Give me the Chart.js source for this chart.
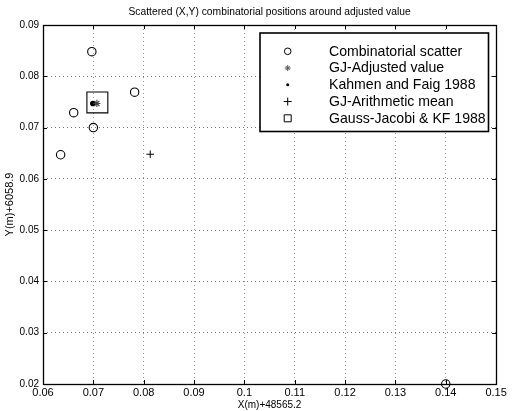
<!DOCTYPE html>
<html><head><meta charset="utf-8">
<script src="https://cdn.jsdelivr.net/npm/chart.js@4"></script>
<style>html,body{margin:0;padding:0;background:#fff;}canvas{display:block;}</style>
</head><body>
<canvas id="c" width="512" height="411"></canvas>
<script>
const chartTitle = "Scattered (X,Y) combinatorial positions around adjusted value";
const xAxisLabel = "X(m)+48565.2";
const yAxisLabel = "Y(m)+6058.9";
const xTicks = [0.06, 0.07, 0.08, 0.09, 0.10, 0.11, 0.12, 0.13, 0.14, 0.15];
const yTicks = [0.02, 0.03, 0.04, 0.05, 0.06, 0.07, 0.08, 0.09];
const seriesNames = ["Combinatorial scatter", "GJ-Adjusted value", "Kahmen and Faig 1988", "GJ-Arithmetic mean", "Gauss-Jacobi & KF 1988"];
const scatterX = [0.0697, 0.0782, 0.0661, 0.0700, 0.0635, 0.1400];
const scatterY = [0.0848, 0.0769, 0.0729, 0.0700, 0.0647, 0.0200];
const adjustedX = [0.0707];
const adjustedY = [0.0747];
const kahmenX = [0.0699];
const kahmenY = [0.0747];
const meanX = [0.0813];
const meanY = [0.0648];
const gjkfX = [0.0708];
const gjkfY = [0.0749];

const FONT = '"Liberation Sans", Arial, Helvetica, sans-serif';
const pts = (xs, ys) => xs.map((x, i) => ({x: x, y: ys[i]}));
const fmt = v => String(Number(v.toFixed(2)));

const decor = {
  id: 'decor',
  beforeDatasetsDraw(chart) {
    const {ctx, chartArea: a, scales} = chart;
    ctx.save();
    ctx.strokeStyle = '#000';
    ctx.lineWidth = 1;
    ctx.beginPath();
    xTicks.forEach(v => {
      const x = Math.round(scales.x.getPixelForValue(v)) + 0.5;
      ctx.moveTo(x, a.bottom); ctx.lineTo(x, a.bottom - 4);
      ctx.moveTo(x, a.top); ctx.lineTo(x, a.top + 4);
    });
    yTicks.forEach(v => {
      const y = Math.round(scales.y.getPixelForValue(v)) + 0.5;
      ctx.moveTo(a.left, y); ctx.lineTo(a.left + 4, y);
      ctx.moveTo(a.right, y); ctx.lineTo(a.right - 4, y);
    });
    ctx.stroke();
    ctx.lineWidth = 1.3;
    ctx.strokeRect(Math.round(a.left) + 0.5, Math.round(a.top) + 0.5, Math.round(a.right - a.left), Math.round(a.bottom - a.top));
    ctx.restore();
  },
  afterDraw(chart) {
    const {ctx, chartArea: a} = chart;
    ctx.save();
    ctx.fillStyle = '#000';
    ctx.textAlign = 'center';
    ctx.textBaseline = 'middle';
    ctx.font = '10.3px ' + FONT;
    ctx.fillText(chartTitle, (a.left + a.right) / 2, 12);
    ctx.font = '10px ' + FONT;
    ctx.fillText(xAxisLabel, (a.left + a.right) / 2, 405);
    ctx.save();
    ctx.translate(10, (a.top + a.bottom) / 2);
    ctx.rotate(-Math.PI / 2);
    ctx.font = '11px ' + FONT;
    ctx.fillText(yAxisLabel, 0, 0);
    ctx.restore();
    // legend
    const L = 260, T = 33, W = 228.5, H = 98.5;
    ctx.fillStyle = '#fff';
    ctx.fillRect(L, T, W, H);
    ctx.strokeStyle = '#000';
    ctx.lineWidth = 1.6;
    ctx.strokeRect(L, T, W, H);
    const mx = 287.7, tx = 329;
    ctx.font = '14.1px ' + FONT;
    ctx.textAlign = 'left';
    seriesNames.forEach((name, i) => {
      const y = 51.3 + i * 16.75;
      ctx.fillStyle = '#000';
      ctx.fillText(name, tx, y + 0.5);
      ctx.lineWidth = 1;
      ctx.strokeStyle = '#000';
      ctx.beginPath();
      if (i === 0) { ctx.arc(mx, y, 3.3, 0, Math.PI * 2); ctx.stroke(); }
      else if (i === 1) {
        ctx.strokeStyle = '#555';
        for (let k = 0; k < 4; k++) { const r = k * Math.PI / 4; ctx.moveTo(mx - 3 * Math.cos(r), y - 3 * Math.sin(r)); ctx.lineTo(mx + 3 * Math.cos(r), y + 3 * Math.sin(r)); }
        ctx.stroke();
      }
      else if (i === 2) { ctx.fillStyle = '#000'; ctx.arc(mx, y, 1.5, 0, Math.PI * 2); ctx.fill(); }
      else if (i === 3) { ctx.moveTo(mx - 4, y); ctx.lineTo(mx + 4, y); ctx.moveTo(mx, y - 4); ctx.lineTo(mx, y + 4); ctx.stroke(); }
      else { ctx.rect(mx - 3.5, y - 3.5, 7, 7); ctx.stroke(); }
    });
    ctx.restore();
  }
};

new Chart(document.getElementById('c'), {
  type: 'scatter',
  data: {
    datasets: [
      {label: seriesNames[0], data: pts(scatterX, scatterY), pointStyle: 'circle', pointRadius: 4.2, borderColor: '#000', backgroundColor: 'rgba(0,0,0,0)', borderWidth: 1.1, clip: false},
      {label: seriesNames[4], data: pts(gjkfX, gjkfY), pointStyle: 'rect', pointRadius: 14.8, borderColor: '#000', backgroundColor: 'rgba(0,0,0,0)', borderWidth: 1.1, clip: false},
      {label: seriesNames[1], data: pts(adjustedX, adjustedY), pointStyle: 'star', pointRadius: 3.6, borderColor: '#444', backgroundColor: 'rgba(0,0,0,0)', borderWidth: 1.1, clip: false},
      {label: seriesNames[2], data: pts(kahmenX, kahmenY), pointStyle: 'circle', pointRadius: 2.8, borderColor: '#000', backgroundColor: '#000', borderWidth: 0, clip: false},
      {label: seriesNames[3], data: pts(meanX, meanY), pointStyle: 'cross', pointRadius: 3.8, borderColor: '#000', backgroundColor: '#000', borderWidth: 1, clip: false}
    ]
  },
  options: {
    responsive: false,
    animation: false,
    events: [],
    layout: {padding: {top: 25, right: 11, left: 0, bottom: 0}},
    plugins: {legend: {display: false}, title: {display: false}, tooltip: {enabled: false}},
    scales: {
      x: {
        type: 'linear', min: 0.06, max: 0.15,
        afterBuildTicks: s => { s.ticks = xTicks.map(v => ({value: v})); },
        afterFit: s => { s.height = 27; },
        ticks: {callback: v => fmt(v), color: '#000', font: {family: FONT, size: 11}, padding: 2, maxRotation: 0, autoSkip: false},
        grid: {color: '#9a9a9a', lineWidth: 1, drawTicks: false},
        border: {display: false, dash: [1, 3]}
      },
      y: {
        type: 'linear', min: 0.02, max: 0.09,
        afterBuildTicks: s => { s.ticks = yTicks.map(v => ({value: v})); },
        afterFit: s => { s.width = 43; },
        ticks: {callback: v => fmt(v), color: '#000', font: {family: FONT, size: 10}, padding: 4, autoSkip: false},
        grid: {color: '#777', lineWidth: 1, drawTicks: false},
        border: {display: false, dash: [1, 3]}
      }
    }
  },
  plugins: [decor]
});
</script>
</body></html>
